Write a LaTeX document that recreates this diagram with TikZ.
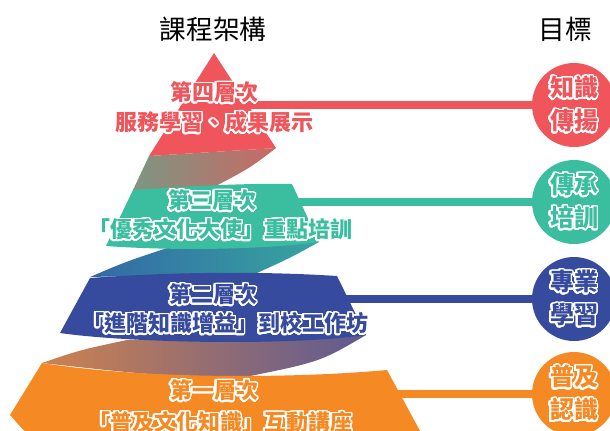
\documentclass[tikz,border=0pt]{standalone}
\usepackage{fontspec}
\newfontfamily\cjk{Noto Sans CJK TC}
\usepackage{contour}
\contourlength{1.1pt}
\contournumber{32}
\definecolor{levelred}{RGB}{239,85,90}
\definecolor{levelteal}{RGB}{59,190,160}
\definecolor{levelblue}{RGB}{54,75,157}
\definecolor{levelorange}{RGB}{245,138,37}
\newcommand{\outlined}[2]{\textcolor{#1}{\contour{white}{#2}}}

\begin{document}
\begin{tikzpicture}[x=0.75pt, y=-0.75pt,
    heading/.style={font=\cjk\fontsize{20}{24}\selectfont, inner sep=0pt},
    layertext/.style={font=\cjk\bfseries\fontsize{16.5}{20}\selectfont, inner sep=0pt},
    goal/.style={circle, minimum size=63pt, inner sep=0pt, align=center,
        font=\cjk\bfseries\fontsize{18}{24.75}\selectfont},
    goalline/.style={line width=5.6pt, shorten >=-4pt}]
    \useasboundingbox (0,0) rectangle (610,430);
    \clip (0,0) rectangle (610,430);

    \node[heading] (course) at (213,29) {課程架構};
    \node[heading] (target) at (565,29) {目標};

    \node[goal, fill=levelred] (g4) at (574,105) {\outlined{levelred}{知識}\\\outlined{levelred}{傳揚}};
    \node[goal, fill=levelteal] (g3) at (574,202) {\outlined{levelteal}{傳承}\\\outlined{levelteal}{培訓}};
    \node[goal, fill=levelblue] (g2) at (574,299) {\outlined{levelblue}{專業}\\\outlined{levelblue}{學習}};
    \node[goal, fill=levelorange] (g1) at (574,394) {\outlined{levelorange}{普及}\\\outlined{levelorange}{認識}};

    \coordinate (l4) at (240,105);
    \coordinate (l3) at (280,202);
    \coordinate (l2) at (330,299);
    \coordinate (l1) at (380,394);
    \draw[goalline, levelred] (l4) -- (g4);
    \draw[goalline, levelteal] (l3) -- (g3);
    \draw[goalline, levelblue] (l2) -- (g2);
    \draw[goalline, levelorange] (l1) -- (g1);

    % back sides of the spiral
    \shade[left color={rgb,255:red,125;green,150;blue,130}, right color={rgb,255:red,200;green,105;blue,100}]
        (149,156) -- (276,148) .. controls (250,168) .. (212,188) -- (133,190) -- cycle;
    \shade[left color={rgb,255:red,50;green,105;blue,165}, right color={rgb,255:red,55;green,165;blue,160}]
        (167,248) -- (319,242) .. controls (290,258) .. (257,273) -- (90,277) .. controls (125,262) .. (167,248) -- cycle;
    \shade[left color={rgb,255:red,205;green,130;blue,80}, right color={rgb,255:red,95;green,90;blue,145}]
        (127,340) -- (366,335) .. controls (320,362) .. (240,378) .. controls (150,375) .. (42,363) .. controls (80,350) .. (127,340) -- cycle;

    % levels
    \fill[levelred] (214,53) -- (276,148) -- (149,156) -- cycle;
    \fill[levelteal] (133,190) .. controls (190,186) and (250,183) .. (292,184) -- (319,242)
        .. controls (250,251) and (160,250) .. (106,246) -- cycle;
    \fill[levelblue] (90,278) .. controls (170,272) and (260,271) .. (337,276) -- (366,335)
        .. controls (290,346) and (130,343) .. (60,333) -- cycle;
    \fill[levelorange] (42,363) .. controls (150,380) and (300,378) .. (387,370) -- (425,440)
        -- (40,445) .. controls (25,432) .. (10,415) -- cycle;

    \node[layertext] (t4) at (214,93) {\outlined{levelred}{第四層次}};
    \node[layertext] (d4) at (214,123) {\outlined{levelred}{服務學習、成果展示}};
    \node[layertext] (t3) at (212,201) {\outlined{levelteal}{第三層次}};
    \node[layertext] (d3) at (220,230) {\outlined{levelteal}{「優秀文化大使」重點培訓}};
    \node[layertext] (t2) at (213,295) {\outlined{levelblue}{第二層次}};
    \node[layertext] (d2) at (225,324) {\outlined{levelblue}{「進階知識增益」到校工作坊}};
    \node[layertext] (t1) at (214,391) {\outlined{levelorange}{第一層次}};
    \node[layertext] (d1) at (220,423) {\outlined{levelorange}{「普及文化知識」互動講座}};
\end{tikzpicture}
\end{document}
